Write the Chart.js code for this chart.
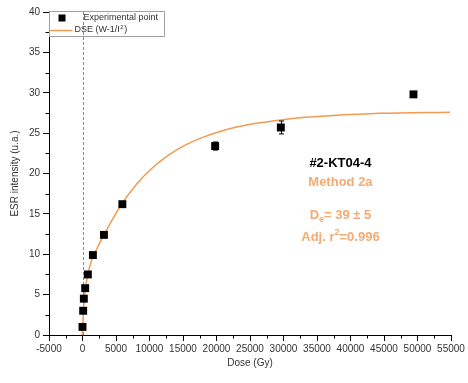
<!DOCTYPE html>
<html>
<head>
<meta charset="utf-8">
<script src="https://cdn.jsdelivr.net/npm/chart.js@4/dist/chart.umd.min.js"></script>
<style>
html,body{margin:0;padding:0;background:#fff;}
#wrap{width:468px;height:383px;}
</style>
</head>
<body>
<div id="wrap"><canvas id="c" width="468" height="383"></canvas></div>
<script>
// Experimental points
const doseGy = [0, 100, 200, 400, 800, 1550, 3200, 5950, 19800, 29600, 49400];
const esrIntensity = [1.0, 3.0, 4.5, 5.8, 7.5, 9.9, 12.4, 16.2, 23.4, 25.7, 29.8];
const esrError = [0.1, 0.1, 0.1, 0.1, 0.1, 0.15, 0.2, 0.3, 0.5, 0.8, 0.35];
// DSE fit curve
const fitDose = [-39, 120, 270, 630, 1220, 2270, 3600, 5600, 8090, 10570, 13060, 15550, 18030, 20520, 23010, 25490, 27990, 32460, 36900, 44400, 54850];
const fitIntensity = [0, 2.6, 4.4, 6.8, 8.9, 10.9, 13.0, 15.9, 18.7, 20.8, 22.4, 23.6, 24.5, 25.2, 25.75, 26.15, 26.45, 26.9, 27.15, 27.45, 27.6];
// Axes
const xTickLabels = [-5000, 0, 5000, 10000, 15000, 20000, 25000, 30000, 35000, 40000, 45000, 50000, 55000];
const yTickLabels = [0, 5, 10, 15, 20, 25, 30, 35, 40];
const seriesNames = ['Experimental point', 'DSE (W-1/I', ')'];
const sampleName = '#2-KT04-4';
const methodName = 'Method 2a';
const deText = ['D', 'e', '= 39 \u00b1 5'];
const r2Text = ['Adj. r', '2', '=0.996'];

const FONT = "'Liberation Sans', Arial, sans-serif";
const ORANGE_LINE = '#f39a52';
const ORANGE_TEXT = '#f4aa70';

const overlay = {
  id: 'overlay',
  beforeDatasetsDraw(chart) {
    const ctx = chart.ctx, xs = chart.scales.x, ys = chart.scales.y;
    ctx.save();
    // minor ticks (halfway between labelled ticks)
    ctx.strokeStyle = '#000';
    ctx.lineWidth = 1;
    ctx.beginPath();
    for (let i = 0; i < xTickLabels.length - 1; i++) {
      const px = Math.round(xs.getPixelForValue((xTickLabels[i] + xTickLabels[i + 1]) / 2)) + 0.5;
      ctx.moveTo(px, xs.top); ctx.lineTo(px, xs.top + 3.5);
    }
    for (let i = 0; i < yTickLabels.length - 1; i++) {
      const py = Math.round(ys.getPixelForValue((yTickLabels[i] + yTickLabels[i + 1]) / 2)) + 0.5;
      ctx.moveTo(ys.right, py); ctx.lineTo(ys.right - 3.5, py);
    }
    ctx.stroke();
    // dashed vertical line at x = 0
    const x0 = Math.round(xs.getPixelForValue(0)) + 0.5;
    ctx.strokeStyle = '#8a8a8a';
    ctx.setLineDash([3, 2]);
    ctx.beginPath();
    ctx.moveTo(x0, ys.top);
    ctx.lineTo(x0, ys.bottom);
    ctx.stroke();
    ctx.restore();
  },
  afterDatasetsDraw(chart) {
    const ctx = chart.ctx, xs = chart.scales.x, ys = chart.scales.y;
    ctx.save();
    // error bars
    ctx.strokeStyle = '#000';
    ctx.lineWidth = 1;
    for (let i = 0; i < doseGy.length; i++) {
      const px = Math.round(xs.getPixelForValue(doseGy[i])) + 0.5;
      const yt = ys.getPixelForValue(esrIntensity[i] + esrError[i]);
      const yb = ys.getPixelForValue(esrIntensity[i] - esrError[i]);
      ctx.beginPath();
      ctx.moveTo(px, yt); ctx.lineTo(px, yb);
      ctx.moveTo(px - 2.5, yt); ctx.lineTo(px + 2.5, yt);
      ctx.moveTo(px - 2.5, yb); ctx.lineTo(px + 2.5, yb);
      ctx.stroke();
    }
    // legend
    const lx = xs.left + 0.5, ly = ys.top - 0.5;
    ctx.strokeStyle = '#a0a0a0';
    ctx.lineWidth = 1;
    ctx.strokeRect(lx, ly, 115, 25);
    ctx.fillStyle = '#000';
    ctx.fillRect(lx + 9, ly + 3, 7, 7);
    ctx.font = '9px ' + FONT;
    ctx.fillStyle = '#333';
    ctx.textBaseline = 'middle';
    ctx.textAlign = 'left';
    ctx.fillText(seriesNames[0], lx + 34, ly + 6.5);
    ctx.strokeStyle = ORANGE_LINE;
    ctx.lineWidth = 1.5;
    ctx.beginPath();
    ctx.moveTo(lx, ly + 19); ctx.lineTo(lx + 23, ly + 19);
    ctx.stroke();
    let tx = lx + 25;
    ctx.fillText(seriesNames[1], tx, ly + 18.5);
    tx += ctx.measureText(seriesNames[1]).width;
    ctx.font = '6px ' + FONT;
    ctx.fillText('2', tx + 0.5, ly + 15.5);
    tx += ctx.measureText('2').width + 1;
    ctx.font = '9px ' + FONT;
    ctx.fillText(seriesNames[2], tx, ly + 18.5);

    // annotations
    const cx = xs.getPixelForValue(38500);
    ctx.textAlign = 'center';
    ctx.font = 'bold 13px ' + FONT;
    ctx.fillStyle = '#000';
    ctx.fillText(sampleName, cx, ys.getPixelForValue(21.3));
    ctx.fillStyle = ORANGE_TEXT;
    ctx.fillText(methodName, cx, ys.getPixelForValue(18.95));

    function mixed(parts, y, subUp) {
      ctx.textAlign = 'left';
      const big = 'bold 13px ' + FONT, small = 'bold 9px ' + FONT;
      ctx.font = big; const w0 = ctx.measureText(parts[0]).width;
      const w2 = ctx.measureText(parts[2]).width;
      ctx.font = small; const w1 = ctx.measureText(parts[1]).width;
      let x = cx - (w0 + w1 + w2) / 2;
      ctx.font = big; ctx.fillText(parts[0], x, y); x += w0;
      ctx.font = small; ctx.fillText(parts[1], x, y + (subUp ? -5 : 4)); x += w1;
      ctx.font = big; ctx.fillText(parts[2], x, y);
    }
    mixed(deText, ys.getPixelForValue(14.85), false);
    mixed(r2Text, ys.getPixelForValue(12.1), true);
    ctx.restore();
  }
};

new Chart(document.getElementById('c'), {
  type: 'scatter',
  data: {
    datasets: [
      {
        label: seriesNames[0],
        data: doseGy.map((d, i) => ({x: d, y: esrIntensity[i]})),
        pointStyle: 'rect',
        pointRadius: 5.6,
        backgroundColor: '#000',
        borderColor: '#000',
        borderWidth: 0,
        order: 0
      },
      {
        label: 'DSE',
        type: 'line',
        data: fitDose.map((d, i) => ({x: d, y: fitIntensity[i]})),
        showLine: true,
        borderColor: ORANGE_LINE,
        borderWidth: 1.5,
        pointRadius: 0,
        fill: false,
        cubicInterpolationMode: 'monotone',
        clip: false,
        order: 1
      }
    ]
  },
  options: {
    responsive: false,
    animation: false,
    events: [],
    layout: {padding: {top: 12, right: 17, left: 0, bottom: 0}},
    plugins: {legend: {display: false}, tooltip: {enabled: false}},
    scales: {
      x: {
        type: 'linear',
        min: -5000, max: 55000,
        afterFit(s) { s.height = 48; },
        afterBuildTicks(s) { s.ticks = xTickLabels.map(v => ({value: v})); },
        ticks: {
          autoSkip: false, maxRotation: 0, minRotation: 0,
          color: '#333', font: {family: FONT, size: 10}, padding: 2,
          callback: (v) => String(v)
        },
        grid: {drawOnChartArea: false, drawTicks: true, tickLength: 6, color: '#000'},
        border: {color: '#000', width: 1},
        title: {display: true, text: 'Dose (Gy)', color: '#333', font: {family: FONT, size: 10}, padding: {top: 14, bottom: 14}}
      },
      y: {
        type: 'linear',
        min: 0, max: 40,
        afterFit(s) { s.width = 49; },
        afterBuildTicks(s) { s.ticks = yTickLabels.map(v => ({value: v})); },
        ticks: {
          autoSkip: false, color: '#333', font: {family: FONT, size: 10}, padding: 3,
          callback: (v) => String(v)
        },
        grid: {drawOnChartArea: false, drawTicks: true, tickLength: 6, color: '#000'},
        border: {color: '#000', width: 1},
        title: {display: true, text: 'ESR intensity (u.a.)', color: '#333', font: {family: FONT, size: 10}, padding: {top: 9, bottom: 9}}
      }
    }
  },
  plugins: [overlay]
});
</script>
</body>
</html>
